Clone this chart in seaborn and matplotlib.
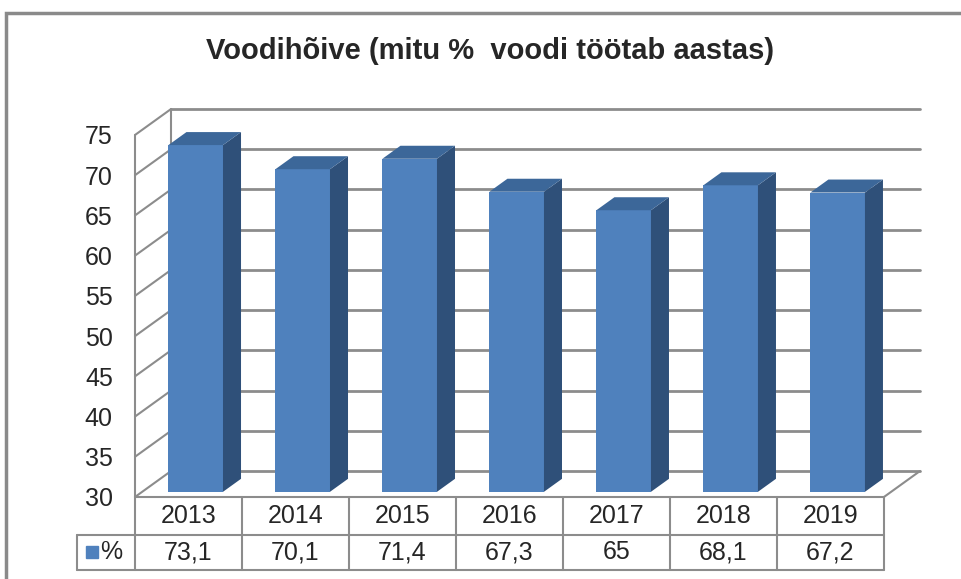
import pandas as pd
import matplotlib.pyplot as plt
import seaborn as sns
from matplotlib.patches import Polygon, Rectangle

# chart data
years = ["2013", "2014", "2015", "2016", "2017", "2018", "2019"]
values = [73.1, 70.1, 71.4, 67.3, 65, 68.1, 67.2]
value_labels = ["73,1", "70,1", "71,4", "67,3", "65", "68,1", "67,2"]
yticks = [30, 35, 40, 45, 50, 55, 60, 65, 70, 75]
series_name = "%"
title = "Voodihõive (mitu %  voodi töötab aastas)"

sns.set_style("white")
plt.rcParams["font.family"] = ["Liberation Sans", "DejaVu Sans"]

df = pd.DataFrame({"year": years, "value": values})

front = "#4F81BD"
side = "#2F5079"
top = "#3C6799"
grid = "#8C8C8C"

# fake 3d depth (in data units)
dx, dy = 0.337, 3.23
ymin, ymax = 30, 75
px = 8.045  # pixels per y unit

fig = plt.figure(figsize=(9.62, 5.79), dpi=100)
ax = fig.add_axes([135 / 962, 1 - 497 / 579, (920 - 135) / 962, (497 - 109) / 579])

sns.barplot(data=df, x="year", y="value", color=front, width=0.51,
            saturation=1, ax=ax, zorder=3)
ax.set_xlim(-0.5, 6.5 + dx)
ax.set_ylim(ymin, ymax + dy)

# back wall, side wall and floor
x0, x1 = -0.5, len(years) - 0.5
for v in yticks:
    ax.plot([x0 + dx, x1 + dx], [v + dy, v + dy], color=grid, lw=2, zorder=1, clip_on=False)
    ax.plot([x0, x0 + dx], [v, v + dy], color=grid, lw=1.5, zorder=1, clip_on=False)
ax.plot([x0, x0], [ymin, ymax], color=grid, lw=1.5, zorder=1, clip_on=False)
ax.plot([x0 + dx, x0 + dx], [ymin + dy, ymax + dy], color=grid, lw=1.5, zorder=1, clip_on=False)
ax.plot([x1, x1 + dx], [ymin, ymin + dy], color=grid, lw=1.5, zorder=1, clip_on=False)

# move bars into the middle of the depth and add side / top faces
for p in ax.patches:
    xl = p.get_x() + 0.2 * dx
    w = p.get_width()
    h_top = p.get_height() + 0.2 * dy
    yb = ymin + 0.2 * dy
    p.set_x(xl)
    p.set_y(yb)
    p.set_height(h_top - yb)
    p.set_linewidth(0)
    xr = xl + w
    ax.add_patch(Polygon([(xr, yb), (xr, h_top), (xr + 0.5 * dx, h_top + 0.5 * dy),
                          (xr + 0.5 * dx, yb + 0.5 * dy)], closed=True,
                         fc=side, ec="none", zorder=3))
    ax.add_patch(Polygon([(xl, h_top), (xr, h_top), (xr + 0.5 * dx, h_top + 0.5 * dy),
                          (xl + 0.5 * dx, h_top + 0.5 * dy)], closed=True,
                         fc=top, ec="none", zorder=3))

ax.set_yticks(yticks)
ax.set_yticklabels([str(v) for v in yticks], fontsize=18)
ax.tick_params(axis="y", length=0, pad=16)
ax.set_xticks([])
ax.set_xlabel("")
ax.set_ylabel("")
sns.despine(ax=ax, left=True, bottom=True)

# data table under the chart
r1 = ymin - 38 / px
r2 = ymin - 73 / px
xleft = x0 - (135 - 77) / 107
kw = dict(color=grid, lw=1.5, clip_on=False, zorder=2)
ax.plot([x0, x1], [ymin, ymin], **kw)
ax.plot([xleft, x1], [r1, r1], **kw)
ax.plot([xleft, x1], [r2, r2], **kw)
ax.plot([xleft, xleft], [r1, r2], **kw)
for i in range(len(years) + 1):
    ax.plot([x0 + i, x0 + i], [ymin, r2], **kw)
for i, (yr, lab) in enumerate(zip(years, value_labels)):
    ax.text(i, (ymin + r1) / 2, yr, ha="center", va="center", fontsize=18)
    ax.text(i, (r1 + r2) / 2, lab, ha="center", va="center", fontsize=18)
ax.plot([xleft + 0.14], [(r1 + r2) / 2], marker="s", color=front, markersize=8,
        clip_on=False, linestyle="none")
ax.text(xleft + 0.22, (r1 + r2) / 2, series_name, ha="left", va="center", fontsize=18)

# outer chart border and title
fig.add_artist(Rectangle((6 / 962, -0.1), 1.2, 1.1 - 13 / 579, transform=fig.transFigure,
                         fill=False, ec="#8A8A8A", lw=2.5))
fig.text(490 / 962, 1 - 51 / 579, title, ha="center", va="center",
         fontsize=21, fontweight="bold")

fig.savefig("out.png", dpi=100)
